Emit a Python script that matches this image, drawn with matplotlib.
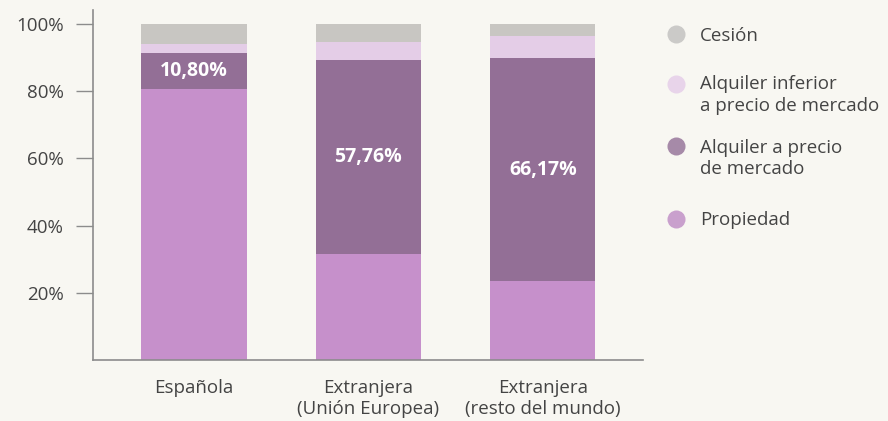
import matplotlib.pyplot as plt
from matplotlib.lines import Line2D

plt.rcParams["font.family"] = ["Open Sans", "DejaVu Sans"]

categories = ["Española", "Extranjera\n(Unión Europea)", "Extranjera\n(resto del mundo)"]
propiedad = [80.6, 31.5, 23.6]
alquiler_mercado = [10.80, 57.76, 66.17]
alquiler_inferior = [2.7, 5.4, 6.6]
cesion = [5.9, 5.34, 3.63]
mercado_labels = ["10,80%", "57,76%", "66,17%"]

series = [
    ("Propiedad", propiedad, "#c690cb"),
    ("Alquiler a precio de mercado", alquiler_mercado, "#936f96"),
    ("Alquiler inferior a precio de mercado", alquiler_inferior, "#e4cde7"),
    ("Cesión", cesion, "#c8c6c2"),
]

# legend: label lines, marker colour, marker centre (px from top), baselines
legend_rows = [
    (["Cesión"], "#cbcac8", 34.3, [40.6]),
    (["Alquiler inferior", "a precio de mercado"], "#e8d4ea", 84, [89.3, 110.7]),
    (["Alquiler a precio", "de mercado"], "#a68aa8", 146, [152.7, 174]),
    (["Propiedad"], "#c9a0cd", 219, [225.3]),
]

bg = "#f8f7f2"
W, H = 888.0, 421.0
fig = plt.figure(figsize=(8.88, 4.21), dpi=100, facecolor=bg)
ax = fig.add_axes([0.1047, 0.1449, 0.6194, 0.8325])
ax.set_facecolor(bg)

x = list(range(len(categories)))
bottom = [0.0] * len(categories)
for name, vals, color in series:
    ax.bar(x, vals, bottom=bottom, width=0.605, color=color, linewidth=0)
    if name == "Alquiler a precio de mercado":
        for i, v in enumerate(vals):
            ax.text(i, bottom[i] + v / 2, mercado_labels[i], ha="center", va="center",
                    color="white", fontsize=14, fontweight="bold")
    bottom = [b + v for b, v in zip(bottom, vals)]

ax.set_xlim(-0.58, 2.575)
ax.set_ylim(0, 104.3)
ax.set_yticks([20, 40, 60, 80, 100])
ax.set_yticklabels(["20%", "40%", "60%", "80%", "100%"])
ax.set_xticks(x)
ax.set_xticklabels(categories, linespacing=1.15)
for s in ["top", "right"]:
    ax.spines[s].set_visible(False)
for s in ["left", "bottom"]:
    ax.spines[s].set_color("#8c8c8c")
    ax.spines[s].set_linewidth(1.2)
ax.tick_params(axis="y", length=12, width=1, color="#8c8c8c", pad=9,
               labelsize=13.5, labelcolor="#444444")
ax.tick_params(axis="x", length=0, pad=14, labelsize=13.5, labelcolor="#444444")

# legend drawn by hand so markers line up with the first line of text
for lines, color, cy, baselines in legend_rows:
    fig.add_artist(Line2D([676 / W], [1 - cy / H], transform=fig.transFigure,
                          marker="o", markersize=13, markerfacecolor=color,
                          markeredgecolor="none", linestyle="none"))
    for line, by in zip(lines, baselines):
        fig.text(700 / W, 1 - by / H, line, ha="left", va="baseline",
                 fontsize=13.5, color="#444444")

fig.savefig("out.png", dpi=100, facecolor=bg)
